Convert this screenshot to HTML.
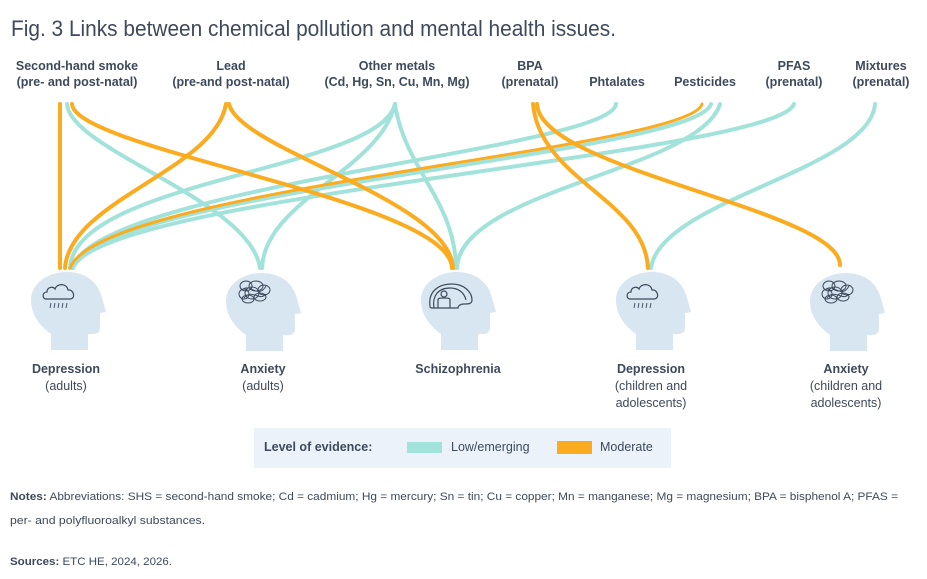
<!DOCTYPE html>
<html><head><meta charset="utf-8"><style>
html,body{margin:0;padding:0;background:#fff;}
svg{display:block;font-family:"Liberation Sans",sans-serif;}
</style></head><body>
<svg width="927" height="579" viewBox="0 0 927 579" xmlns="http://www.w3.org/2000/svg">
<defs>
<path id="head" d="M20,78 L20,62 C6,52 0,40 0,28 C0,12 16,0 36,0 C56,0 68,12 71,26 L75,40 L69,41 L69,56 C69,60 66,62 62,62 L57,62 L57,78 Z" fill="#d8e6f2"/>
<g id="cloud" fill="none" stroke="#3d4a5c" stroke-width="1.2">
<path d="M3,20 C-1,20 -1,13 4,13 C4,8 10,7 12,10 C14,4 24,4 25,11 C31,10 33,20 27,20 Z"/>
<path d="M8,24 l-1,5 M12,24 l-1,5 M16,24 l-1,5 M20,24 l-1,5 M24,24 l-1,5" stroke-width="0.9"/>
</g>
<g id="scribble" fill="none" stroke="#3d4a5c" stroke-width="1">
<ellipse cx="8" cy="6" rx="6" ry="5"/><ellipse cx="18" cy="6" rx="7" ry="5"/><ellipse cx="26" cy="10" rx="6" ry="5"/>
<ellipse cx="6" cy="14" rx="5" ry="5"/><ellipse cx="14" cy="13" rx="7" ry="6"/><ellipse cx="22" cy="17" rx="6" ry="4"/>
<ellipse cx="10" cy="19" rx="6" ry="4"/><path d="M4,10 C12,2 20,20 28,6 M6,18 C14,8 22,22 28,14"/>
</g>
<g id="schiz" fill="none" stroke="#3d4a5c" stroke-width="1.2">
<path d="M2,24 C0,10 10,2 24,2 C36,2 44,10 44,18 C44,22 40,22 36,22 C32,22 30,24 30,26 L4,26 C2,26 2,25 2,24 Z"/>
<path d="M6,26 C4,14 10,6 22,6 C30,6 36,10 38,18"/>
<circle cx="16" cy="12" r="3"/><path d="M10,26 L10,18 C10,16 12,16 16,16 C20,16 22,16 22,18 L22,26"/>
</g>
</defs>

<text x="11" y="36" font-size="22" fill="#3d4a5c" textLength="605" lengthAdjust="spacingAndGlyphs">Fig. 3 Links between chemical pollution and mental health issues.</text>

<g font-size="12.5" font-weight="bold" fill="#3d4a5c" text-anchor="middle">
<text x="77" y="70">Second-hand smoke</text><text x="77" y="86">(pre- and post-natal)</text>
<text x="231" y="70">Lead</text><text x="231" y="86">(pre-and post-natal)</text>
<text x="397" y="70">Other metals</text><text x="397" y="86">(Cd, Hg, Sn, Cu, Mn, Mg)</text>
<text x="530" y="70">BPA</text><text x="530" y="86">(prenatal)</text>
<text x="617" y="86">Phtalates</text>
<text x="705" y="86">Pesticides</text>
<text x="794" y="70">PFAS</text><text x="794" y="86">(prenatal)</text>
<text x="881" y="70">Mixtures</text><text x="881" y="86">(prenatal)</text>
</g>

<g fill="none" stroke-width="4" stroke-linecap="round">
<g stroke="#a1e3da">
<path d="M67,104 C70,150 250,200 260,268"/>
<path d="M395,104 C380,170 75,180 70,268"/>
<path d="M395,104 C380,170 265,200 262,268"/>
<path d="M395,104 C405,170 455,200 456,268"/>
<path d="M616,104 C610,150 100,185 72,268"/>
<path d="M711,104 C695,155 100,190 72,268"/>
<path d="M720,104 C700,170 460,190 457,268"/>
<path d="M794,104 C775,155 100,195 73,268"/>
<path d="M875,104 C870,170 660,200 651,268"/>
</g>
<g stroke="#fbab1f">
<path d="M60,104 L60,268"/>
<path d="M72,104 C75,150 450,200 452,268"/>
<path d="M226,104 C215,170 70,200 65,268"/>
<path d="M229,104 C240,150 450,200 453,268"/>
<path d="M533,104 C540,180 645,200 648,268"/>
<path d="M537,104 C540,170 840,210 840,265"/>
<path d="M702,104 C690,150 100,188 70,268" stroke-width="3"/>
</g>
</g>

<use href="#head" x="31" y="272"/>
<use href="#head" x="226" y="273"/>
<use href="#head" x="421" y="272"/>
<use href="#head" x="616" y="272"/>
<use href="#head" x="810" y="273"/>
<use href="#cloud" x="43" y="279"/>
<use href="#cloud" x="627" y="279"/>
<use href="#scribble" x="238" y="280"/>
<use href="#scribble" x="821" y="280"/>
<use href="#schiz" x="428" y="282"/>

<g font-size="12.5" fill="#3d4a5c" text-anchor="middle">
<text x="66" y="373" font-weight="bold">Depression</text><text x="66" y="390">(adults)</text>
<text x="263" y="373" font-weight="bold">Anxiety</text><text x="263" y="390">(adults)</text>
<text x="458" y="373" font-weight="bold">Schizophrenia</text>
<text x="651" y="373" font-weight="bold">Depression</text><text x="651" y="390">(children and</text><text x="651" y="407">adolescents)</text>
<text x="846" y="373" font-weight="bold">Anxiety</text><text x="846" y="390">(children and</text><text x="846" y="407">adolescents)</text>
</g>

<rect x="254" y="428" width="417" height="40" fill="#ebf2f9"/>
<text x="264" y="451" font-size="12.5" font-weight="bold" fill="#3d4a5c">Level of evidence:</text>
<rect x="407" y="442" width="35" height="11" fill="#a1e3da"/>
<text x="451" y="451" font-size="12.5" fill="#3d4a5c">Low/emerging</text>
<rect x="557" y="441" width="35" height="13" fill="#fbab1f"/>
<text x="600" y="451" font-size="12.5" fill="#3d4a5c">Moderate</text>

<g font-size="11" fill="#3d4a5c">
<text x="10" y="500" textLength="888" lengthAdjust="spacingAndGlyphs"><tspan font-weight="bold">Notes:</tspan> Abbreviations: SHS = second-hand smoke; Cd = cadmium; Hg = mercury; Sn = tin; Cu = copper; Mn = manganese; Mg = magnesium; BPA = bisphenol A; PFAS =</text>
<text x="10" y="524" textLength="195" lengthAdjust="spacingAndGlyphs">per- and polyfluoroalkyl substances.</text>
<text x="10" y="565" textLength="162" lengthAdjust="spacingAndGlyphs"><tspan font-weight="bold">Sources:</tspan> ETC HE, 2024, 2026.</text>
</g>
</svg>
</body></html>
